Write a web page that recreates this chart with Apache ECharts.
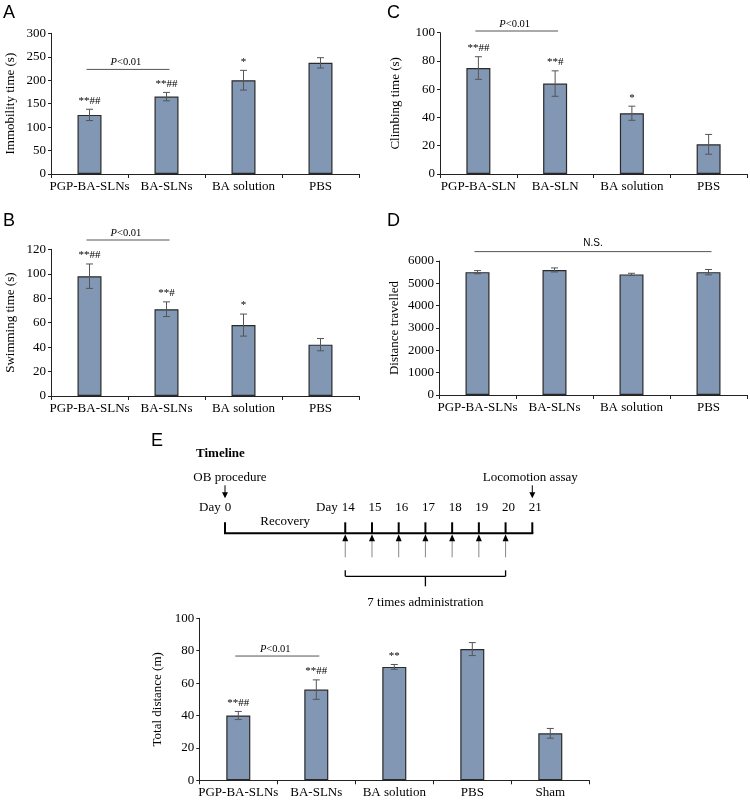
<!DOCTYPE html>
<html>
<head>
<meta charset="utf-8">
<script src="https://cdn.jsdelivr.net/npm/echarts@6/dist/echarts.min.js"></script>
<style>
html,body{margin:0;padding:0;background:#fff;}
#chart{width:750px;height:800px;}
</style>
</head>
<body>
<div id="chart"></div>
<script>
// ---------- DATA ----------
const groupsA = ['PGP-BA-SLNs', 'BA-SLNs', 'BA solution', 'PBS'];
const groupsC = ['PGP-BA-SLN', 'BA-SLN', 'BA solution', 'PBS'];
const groupsE = ['PGP-BA-SLNs', 'BA-SLNs', 'BA solution', 'PBS', 'Sham'];

const immobilityTime = [126, 165, 200, 237];
const immobilityErr = [12, 9, 21, 11];
const immobilityMarks = ['**##', '**##', '*', ''];

const swimmingTime = [98, 71, 58, 42];
const swimmingErr = [10, 6, 9, 5];
const swimmingMarks = ['**##', '**#', '*', ''];

const climbingTime = [75, 64, 43, 21];
const climbingErr = [8, 9, 5, 7];
const climbingMarks = ['**##', '**#', '*', ''];

const distanceTravelled = [5500, 5600, 5400, 5500];
const distanceErr = [70, 90, 50, 120];
const distanceMarks = ['', '', '', ''];

const totalDistance = [40, 56, 70, 81, 29];
const totalDistanceErr = [2.5, 6, 1.5, 4, 3];
const totalDistanceMarks = ['**##', '**##', '**', '', ''];

// comparison brackets: [from group, to group, level, label]
const bracketA = [0, 1, 223, 'P<0.01'];
const bracketB = [0, 1, 127.6, 'P<0.01'];
const bracketC = [0, 1, 101.2, 'P<0.01'];
const bracketD = [0, 3, 6420, 'N.S.'];
const bracketE = [0, 1, 76.7, 'P<0.01'];

// timeline
const timelineDays = [0, 14, 15, 16, 17, 18, 19, 20, 21];
const dosingDays = [14, 15, 16, 17, 18, 19, 20];
const prefixedDays = [0, 14];
const eventDays = [0, 21];
const eventLabels = ['OB procedure', 'Locomotion assay'];
const recoveryLabel = 'Recovery';
const dosingLabel = '7 times administration';

// ---------- STYLE ----------
const SERIF = '"Liberation Serif", "Times New Roman", serif';
const SANS = '"Liberation Sans", Arial, sans-serif';
const BAR_COLOR = '#8197B4';
const AXIS_COLOR = '#222';
const ERR_COLOR = '#555';

// compressed recovery period on the schematic timeline (layout helper)
const RECOVERY_SLOTS = 4.5;
function timelineSlot(day) {
  return day < 14 ? day * RECOVERY_SLOTS / 14 : RECOVERY_SLOTS + (day - 14);
}

const grids = [
  { left: 51, top: 33.3, width: 308, height: 140.7 },   // A
  { left: 51, top: 249.3, width: 308, height: 146.7 },  // B
  { left: 440, top: 32.7, width: 307, height: 141.3 },  // C
  { left: 439, top: 261, width: 308, height: 134 },     // D
  { left: 199.3, top: 618.3, width: 390, height: 162 }, // E
  { left: 225, top: 433.3, width: 307.3, height: 100 }  // timeline
].map(g => Object.assign({ containLabel: false, outerBoundsMode: 'none' }, g));

const xAxes = [];
const yAxes = [];
const series = [];

function txt(text, x, y, font, align, vAlign, color) {
  return {
    type: 'text',
    style: {
      text: text, x: x, y: y, font: font,
      align: align, verticalAlign: vAlign,
      textAlign: align, textVerticalAlign: vAlign,
      fill: color || '#000'
    }
  };
}
function seg(x1, y1, x2, y2, color, w) {
  return { type: 'line', shape: { x1: x1, y1: y1, x2: x2, y2: y2 }, style: { stroke: color, lineWidth: w } };
}

function addPanel(gi, cats, vals, errs, marks, yName, yMax, yInt, nameGap, bracket) {
  xAxes.push({
    type: 'category', gridIndex: gi, data: cats,
    axisLine: { lineStyle: { color: AXIS_COLOR, width: 1 } },
    axisTick: { show: true, alignWithLabel: false, length: 4, lineStyle: { color: AXIS_COLOR } },
    axisLabel: { color: '#000', fontFamily: SERIF, fontSize: 13, margin: 6, interval: 0 },
    splitLine: { show: false }
  });
  yAxes.push({
    type: 'value', gridIndex: gi, min: 0, max: yMax, interval: yInt,
    name: yName, nameLocation: 'middle', nameGap: nameGap,
    nameTextStyle: { color: '#000', fontFamily: SERIF, fontSize: 13 },
    axisLine: { show: true, lineStyle: { color: AXIS_COLOR, width: 1 } },
    axisTick: { show: true, length: 3, lineStyle: { color: AXIS_COLOR } },
    axisLabel: { color: '#000', fontFamily: SERIF, fontSize: 13, margin: 5, formatter: v => String(v) },
    splitLine: { show: false }
  });
  series.push({
    type: 'bar', xAxisIndex: gi, yAxisIndex: gi, data: vals, barWidth: 24,
    itemStyle: { color: BAR_COLOR, borderColor: '#2a2a2a', borderWidth: 1.2 },
    silent: true, z: 2
  });
  series.push({
    type: 'custom', xAxisIndex: gi, yAxisIndex: gi, z: 3, silent: true,
    data: vals.map((v, i) => [i, v, errs[i]]),
    encode: { x: 0, y: 1 },
    renderItem: function (params, api) {
      const i = api.value(0), v = api.value(1), e = api.value(2);
      const t = api.coord([i, v + e]);
      const b = api.coord([i, v - e]);
      const hw = 3.5;
      const ch = [
        seg(t[0], t[1], b[0], b[1], ERR_COLOR, 1),
        seg(t[0] - hw, t[1], t[0] + hw, t[1], ERR_COLOR, 1),
        seg(b[0] - hw, b[1], b[0] + hw, b[1], ERR_COLOR, 1)
      ];
      const m = marks[params.dataIndex];
      if (m) ch.push(txt(m, t[0], t[1] - 3, '11px ' + SERIF, 'center', 'bottom'));
      return { type: 'group', children: ch };
    }
  });
  series.push({
    type: 'custom', xAxisIndex: gi, yAxisIndex: gi, z: 3, silent: true, clip: false,
    data: [[bracket[0], bracket[1], bracket[2]]],
    encode: { x: [0, 1], y: 2 },
    renderItem: function (params, api) {
      const p1 = api.coord([api.value(0), api.value(2)]);
      const p2 = api.coord([api.value(1), api.value(2)]);
      const cx = (p1[0] + p2[0]) / 2;
      const ch = [seg(p1[0] - 3, p1[1], p2[0] + 3, p2[1], ERR_COLOR, 1)];
      const label = bracket[3];
      if (label.charAt(0) === 'P') {
        ch.push(txt('P', cx - 11, p1[1] - 7, 'italic 10.5px ' + SERIF, 'right', 'middle'));
        ch.push(txt(label.slice(1), cx - 11, p1[1] - 7, '10.5px ' + SERIF, 'left', 'middle'));
      } else {
        ch.push(txt(label, cx, p1[1] - 8, '10px ' + SANS, 'center', 'middle'));
      }
      return { type: 'group', children: ch };
    }
  });
}

addPanel(0, groupsA, immobilityTime, immobilityErr, immobilityMarks, 'Immobility time (s)', 300, 50, 34, bracketA);
addPanel(1, groupsA, swimmingTime, swimmingErr, swimmingMarks, 'Swimming time (s)', 120, 20, 34, bracketB);
addPanel(2, groupsC, climbingTime, climbingErr, climbingMarks, 'Climbing time (s)', 100, 20, 38, bracketC);
addPanel(3, groupsA, distanceTravelled, distanceErr, distanceMarks, 'Distance travelled', 6000, 1000, 38, bracketD);
addPanel(4, groupsE, totalDistance, totalDistanceErr, totalDistanceMarks, 'Total distance (m)', 100, 20, 34, bracketE);

// ---------- TIMELINE ----------
xAxes.push({ type: 'value', gridIndex: 5, min: 0, max: timelineSlot(21), show: false });
yAxes.push({ type: 'value', gridIndex: 5, min: 0, max: 1, show: false });

const TL_FONT = '13px ' + SERIF;
// per-day marks
series.push({
  type: 'custom', xAxisIndex: 5, yAxisIndex: 5, silent: true, clip: false, z: 4,
  data: timelineDays.map(d => [timelineSlot(d), 0, d]),
  encode: { x: 0, y: 1 },
  renderItem: function (params, api) {
    const day = timelineDays[params.dataIndex];
    const p = api.coord([api.value(0), 0]);
    const x = p[0], y = p[1];
    const ch = [];
    ch.push(seg(x, y - 11, x, y, '#000', 2));
    ch.push(txt(String(day), x + 3, y - 26, TL_FONT, 'center', 'middle'));
    if (prefixedDays.indexOf(day) >= 0) {
      const w = String(day).length * 6.5;
      ch.push(txt('Day', x + 3 - w / 2 - 4, y - 26, TL_FONT, 'right', 'middle'));
    }
    const ev = eventDays.indexOf(day);
    if (ev >= 0) {
      ch.push(seg(x, y - 48, x, y - 37, '#000', 1));
      ch.push({ type: 'polygon', shape: { points: [[x - 3, y - 41], [x + 3, y - 41], [x, y - 35]] }, style: { fill: '#000' } });
      const off = ev === 0 ? 5 : -2;
      ch.push(txt(eventLabels[ev], x + off, y - 56, TL_FONT, 'center', 'middle'));
    }
    if (dosingDays.indexOf(day) >= 0) {
      ch.push(seg(x, y + 24, x, y + 6, '#888', 1));
      ch.push({ type: 'polygon', shape: { points: [[x - 3, y + 8], [x + 3, y + 8], [x, y + 1]] }, style: { fill: '#000' } });
    }
    return { type: 'group', children: ch };
  }
});
// axis line, recovery label, dosing brace
series.push({
  type: 'custom', xAxisIndex: 5, yAxisIndex: 5, silent: true, clip: false, z: 3,
  data: [[timelineSlot(timelineDays[0]), timelineSlot(timelineDays[timelineDays.length - 1]), timelineSlot(dosingDays[0]), timelineSlot(dosingDays[dosingDays.length - 1])]],
  encode: { x: [0, 1, 2, 3] },
  renderItem: function (params, api) {
    const a = api.coord([api.value(0), 0]);
    const b = api.coord([api.value(1), 0]);
    const s = api.coord([api.value(2), 0]);
    const e = api.coord([api.value(3), 0]);
    const y = a[1];
    const mid = (s[0] + e[0]) / 2;
    return {
      type: 'group', children: [
        seg(a[0] - 1, y, b[0] + 1, y, '#000', 2),
        txt(recoveryLabel, (a[0] + s[0]) / 2, y - 12, TL_FONT, 'center', 'middle'),
        seg(s[0], y + 37, s[0], y + 43, '#000', 1.3),
        seg(e[0], y + 37, e[0], y + 43, '#000', 1.3),
        seg(s[0], y + 43, e[0], y + 43, '#000', 1.3),
        seg(mid, y + 43, mid, y + 53, '#000', 1.3),
        txt(dosingLabel, mid, y + 69, TL_FONT, 'center', 'middle')
      ]
    };
  }
});

// ---------- PANEL LETTERS / HEADINGS ----------
function gtext(text, x, y, font) {
  return { type: 'text', x: x, y: y, style: { text: text, font: font, fill: '#000', textAlign: 'left', textVerticalAlign: 'middle', align: 'left', verticalAlign: 'middle' } };
}
const graphics = [
  gtext('A', 3, 13, '18px ' + SANS),
  gtext('C', 387, 13, '18px ' + SANS),
  gtext('B', 3, 221, '18px ' + SANS),
  gtext('D', 387, 221, '18px ' + SANS),
  gtext('E', 151, 441, '18px ' + SANS),
  gtext('Timeline', 196, 454, 'bold 13px ' + SERIF)
];

const chart = echarts.init(document.getElementById('chart'), null, { renderer: 'canvas' });
chart.setOption({
  animation: false,
  backgroundColor: '#fff',
  grid: grids,
  xAxis: xAxes,
  yAxis: yAxes,
  series: series,
  graphic: graphics
});
</script>
</body>
</html>
